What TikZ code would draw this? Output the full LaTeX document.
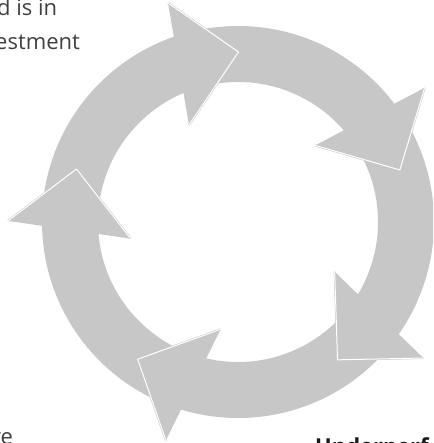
\documentclass[tikz,border=0pt]{standalone}
\usepackage{fontspec}
\setmainfont{Open Sans}
\definecolor{ringgray}{RGB}{199,199,199}
\definecolor{textgray}{RGB}{64,64,64}
\begin{document}
\begin{tikzpicture}[x=1pt,y=1pt,
  cyclefill/.style={fill=ringgray},
  headrim/.style={draw=ringgray, line width=2pt, line join=miter},
  headedge/.style={draw=white, line width=1pt, line join=miter},
  bodytext/.style={anchor=base west, inner sep=0pt, text=textgray,
    font=\fontsize{22}{34}\selectfont},
  boldtext/.style={anchor=base west, inner sep=0pt, text=black!90,
    font=\bfseries\fontsize{22}{26}\selectfont}]
\useasboundingbox (0,0) rectangle (433,-443);
\begin{scope}
  \clip (0,0) rectangle (433,-443);
  % the ring that carries the five cycle arrows
  \coordinate (c) at (238,-222);
  \fill[cyclefill, even odd rule] (c) circle[radius=196] (c) circle[radius=140];
  % five arrowheads, one every 72 degrees, pointing clockwise
  \foreach \k in {0,...,4} {
    \begin{scope}[shift={(c)}, rotate=-72*\k]
      \coordinate (tip) at (0.5,170);
      \coordinate (outer) at (-70,219);
      \coordinate (inner) at (-49,97);
      \fill[cyclefill] (outer) -- (tip) -- (inner) -- cycle;
      \draw[headrim] (outer) -- (tip) -- (inner);
      \draw[headedge] (outer) -- (tip) -- (inner);
    \end{scope}
  }
  % labels around the cycle
  \node[bodytext] (l1) at (-3,-16) {d is in};
  \node[bodytext] (l2) at (-5,-50) {estment};
  \node[bodytext] (l3) at (-8,-444) {re};
  \node[boldtext] (l4) at (315,-454) {Underperf};
\end{scope}
\end{tikzpicture}
\end{document}
